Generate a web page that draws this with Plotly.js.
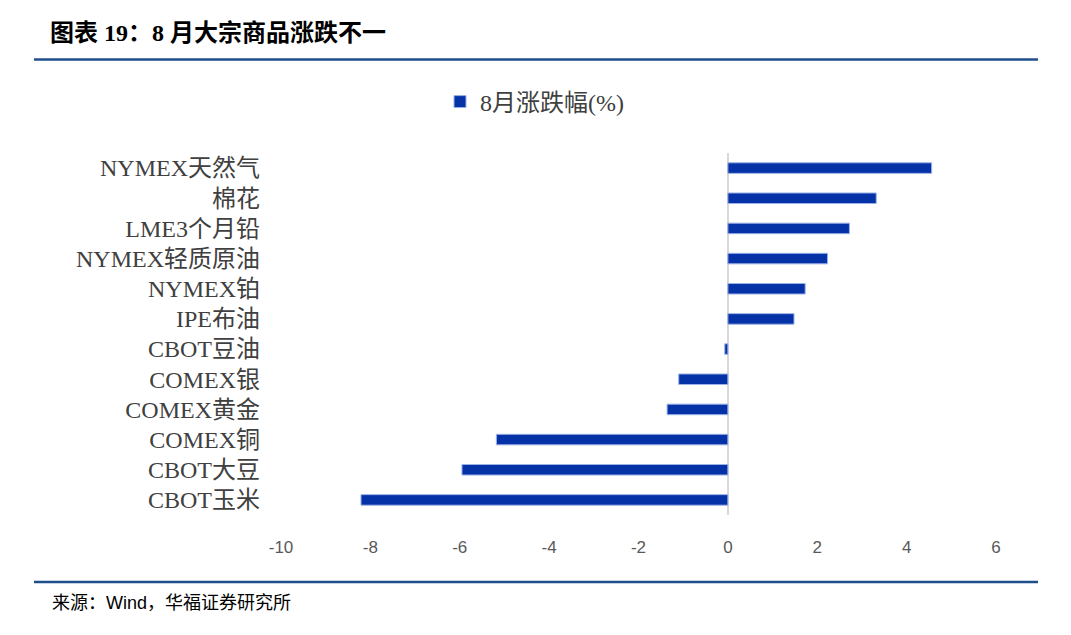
<!DOCTYPE html>
<html>
<head>
<meta charset="utf-8">
<script src="https://cdn.plot.ly/plotly-3.0.1.min.js"></script>
<style>html,body{margin:0;padding:0;background:#fff;}#chart{width:1071px;height:635px;}</style>
</head>
<body>
<div id="chart"></div>
<script>
const categories = ["NYMEX天然气","棉花","LME3个月铅","NYMEX轻质原油","NYMEX铂","IPE布油","CBOT豆油","COMEX银","COMEX黄金","COMEX铜","CBOT大豆","CBOT玉米"];
const changes = [4.56, 3.32, 2.72, 2.23, 1.73, 1.48, -0.07, -1.10, -1.36, -5.18, -5.95, -8.21];
const seriesName = "8月涨跌幅(%)";
const xTicks = [-10, -8, -6, -4, -2, 0, 2, 4, 6];

const serif = '"Times New Roman", "Liberation Serif", "Noto Sans CJK SC", serif';

const trace = {
  type: 'bar',
  orientation: 'h',
  y: categories,
  x: changes,
  name: seriesName,
  marker: {color: '#0532A6', line: {color: '#9DB3E6', width: 1}},
  showlegend: true
};

const L = 281, R = 996, T = 152.6, B = 515.4;
const W = R - L, H = B - T;
const px = x => (x - L) / W;
const py = y => (B - y) / H;

const layout = {
  width: 1071, height: 635,
  margin: {l: L, r: 1071 - R, t: T, b: 635 - B, pad: 0},
  paper_bgcolor: '#fff', plot_bgcolor: '#fff',
  bargap: 0.65,
  title: {
    text: '<b>图表 19：8 月大宗商品涨跌不一</b>',
    x: 50 / 1071, xanchor: 'left', xref: 'container',
    y: 1 - 33 / 635, yanchor: 'middle', yref: 'container',
    font: {family: serif, size: 24, color: '#000'}
  },
  xaxis: {
    range: [-10, 6],
    tickvals: xTicks,
    ticktext: xTicks.map(String),
    showgrid: false,
    zeroline: true, zerolinecolor: '#D9D9D9', zerolinewidth: 2,
    showline: false, ticks: '',
    ticklabelstandoff: 20,
    tickfont: {family: '"Liberation Sans", "Noto Sans", sans-serif', size: 17, color: '#595959'},
    fixedrange: true
  },
  yaxis: {
    type: 'category',
    autorange: 'reversed',
    showgrid: false, zeroline: false, showline: false, ticks: '',
    ticklabelstandoff: 20,
    tickfont: {family: serif, size: 24, color: '#404040'},
    fixedrange: true
  },
  legend: {
    orientation: 'h',
    x: 440 / 1071, xref: 'container', xanchor: 'left',
    y: 1 - 102 / 635, yref: 'container', yanchor: 'middle',
    font: {family: serif, size: 24, color: '#404040'},
    itemwidth: 30
  },
  shapes: [
    {type: 'line', xref: 'paper', yref: 'paper', x0: px(34), x1: px(1038), y0: py(59), y1: py(59), line: {color: '#1F4E8C', width: 2.5}},
    {type: 'line', xref: 'paper', yref: 'paper', x0: px(34), x1: px(1038), y0: py(582.5), y1: py(582.5), line: {color: '#1F4E8C', width: 2.5}}
  ],
  annotations: [
    {text: '来源：Wind，华福证券研究所', xref: 'paper', yref: 'paper', x: px(50), y: py(604), xanchor: 'left', yanchor: 'middle', showarrow: false,
     font: {family: '"Liberation Sans", "Noto Sans CJK SC", sans-serif', size: 18, color: '#000'}}
  ]
};

Plotly.newPlot('chart', [trace], layout, {displayModeBar: false, staticPlot: true});
</script>
</body>
</html>
